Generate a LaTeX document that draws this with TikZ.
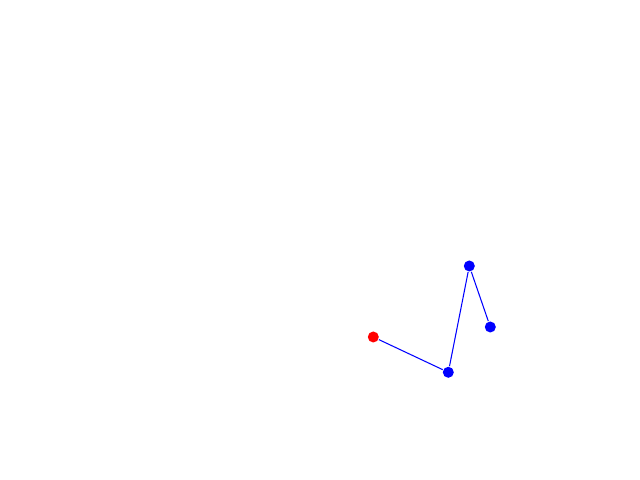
\documentclass[tikz,border=0pt]{standalone}
\usepackage{tikz}

\tikzset{
  dot/.style={circle,fill=#1,draw=none,inner sep=0pt,minimum size=0.11cm},
  link/.style={draw=blue,line width=0.3pt}
}

\begin{document}
\begin{tikzpicture}[x=0.01cm,y=-0.01cm]
\useasboundingbox (0,0) rectangle (640,480);
\node[dot=red] (start) at (373.3,337) {};
\node[dot=blue] (p1) at (448.3,372.3) {};
\node[dot=blue] (p2) at (469.3,266) {};
\node[dot=blue] (p3) at (490.3,327) {};
\draw[link] (start) -- (p1);
\draw[link] (p1) -- (p2);
\draw[link] (p2) -- (p3);
\end{tikzpicture}
\end{document}
